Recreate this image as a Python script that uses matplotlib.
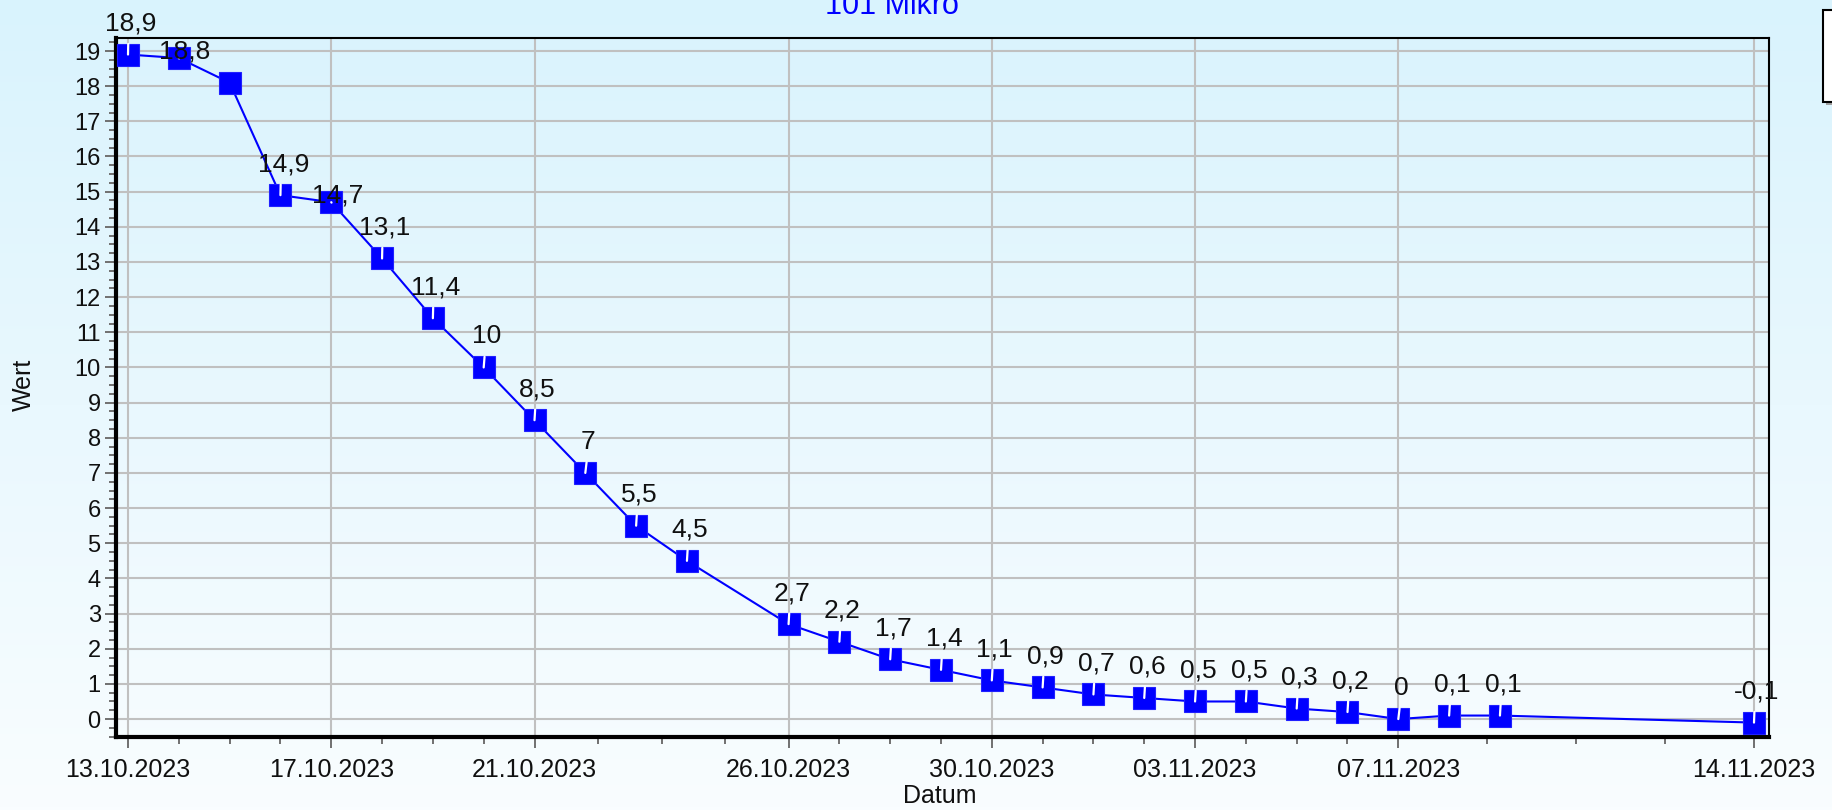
import datetime as dt
import matplotlib
matplotlib.use("Agg")
import matplotlib.pyplot as plt
import matplotlib.dates as mdates
import numpy as np
from matplotlib.patches import Rectangle
from matplotlib.ticker import MultipleLocator, FixedLocator

plt.rcParams['font.family'] = ['Liberation Sans', 'DejaVu Sans']

# data
dates = ["13.10.2023", "14.10.2023", "15.10.2023", "16.10.2023", "17.10.2023",
         "18.10.2023", "19.10.2023", "20.10.2023", "21.10.2023", "22.10.2023",
         "23.10.2023", "24.10.2023", "26.10.2023", "27.10.2023", "28.10.2023",
         "29.10.2023", "30.10.2023", "31.10.2023", "01.11.2023", "02.11.2023",
         "03.11.2023", "04.11.2023", "05.11.2023", "06.11.2023", "07.11.2023",
         "08.11.2023", "09.11.2023", "14.11.2023"]
values = [18.9, 18.8, 18.1, 14.9, 14.7, 13.1, 11.4, 10.0, 8.5, 7.0, 5.5, 4.5,
          2.7, 2.2, 1.7, 1.4, 1.1, 0.9, 0.7, 0.6, 0.5, 0.5, 0.3, 0.2, 0.0,
          0.1, 0.1, -0.1]
labels = ["18,9", "18,8", None, "14,9", "14,7", "13,1", "11,4", "10", "8,5",
          "7", "5,5", "4,5", "2,7", "2,2", "1,7", "1,4", "1,1", "0,9", "0,7",
          "0,6", "0,5", "0,5", "0,3", "0,2", "0", "0,1", "0,1", "-0,1"]
tick_dates = ["13.10.2023", "17.10.2023", "21.10.2023", "26.10.2023",
              "30.10.2023", "03.11.2023", "07.11.2023", "14.11.2023"]
title = "101 Mikro"

x = mdates.date2num([dt.datetime.strptime(d, "%d.%m.%Y") for d in dates])
xt = mdates.date2num([dt.datetime.strptime(d, "%d.%m.%Y") for d in tick_dates])

W, H = 1833, 810
fig = plt.figure(figsize=(W / 100, H / 100), dpi=100)

# gradient background
bg = fig.add_axes([0, 0, 1, 1], zorder=-10)
top = np.array([217, 243, 253]) / 255
bot = np.array([249, 253, 255]) / 255
t = np.linspace(0, 1, 256)[:, None]
grad = (top * (1 - t) + bot * t)[:, None, :]
bg.imshow(grad, aspect='auto', extent=[0, 1, 0, 1])
bg.set_axis_off()

ax = fig.add_axes([116 / W, 1 - 737 / H, (1769 - 116) / W, (737 - 38) / H])
ax.set_facecolor('none')

ax.plot(x, values, color='#0000ff', lw=1.5, marker='s', markersize=16,
        markerfacecolor='#0000ff', markeredgecolor='#2020ff', markeredgewidth=0.8,
        zorder=3)

for xi, v, lab in zip(x, values, labels):
    if lab is None:
        continue
    if lab in ("18,8", "14,7") and v > 14:
        dy, dx = -5, 6
    else:
        dy, dx = 19, 3
    ax.annotate(lab, (xi, v), xytext=(dx, dy), textcoords='offset pixels',
                ha='center', va='bottom', fontsize=19, color='#101010',
                annotation_clip=False, zorder=5,
                arrowprops=dict(arrowstyle='-', color='white', lw=1.6,
                                shrinkA=4, shrinkB=0, relpos=(0.45, 0)))

ax.set_xlim(xt[0] - 12 / 50.81, xt[-1] + 15 / 50.81)
ax.set_ylim(-0.51, 19.37)

ax.xaxis.set_major_locator(FixedLocator(xt))
minor = []
for a, b in zip(xt[:-1], xt[1:]):
    minor += list(a + (b - a) * np.array([0.25, 0.5, 0.75]))
ax.xaxis.set_minor_locator(FixedLocator(minor))
ax.xaxis.set_major_formatter(mdates.DateFormatter('%d.%m.%Y'))
ax.yaxis.set_major_locator(MultipleLocator(1))
ax.yaxis.set_minor_locator(MultipleLocator(0.25))

ax.grid(True, which='major', color='#c0c0c0', lw=1.5, zorder=1)
ax.set_axisbelow(True)

ax.tick_params(axis='x', which='major', labelsize=18, length=8, width=1.4,
               color='#707070', pad=7, labelcolor='#101010')
ax.tick_params(axis='x', which='minor', length=5, width=1.4, color='#707070')
ax.tick_params(axis='y', which='major', labelsize=17, length=8, width=1.4,
               color='#707070', pad=3, labelcolor='#101010')
ax.tick_params(axis='y', which='minor', length=5, width=1.4, color='#707070')

for s in ('left', 'bottom'):
    ax.spines[s].set_linewidth(3)
for s in ('top', 'right'):
    ax.spines[s].set_linewidth(1.5)

fig.text(892 / W, 1 - 14 / H, title, color='#0000ff', fontsize=22,
         ha='center', va='baseline')
fig.text(24 / W, 1 - 385 / H, "Wert", rotation=90, fontsize=18,
         ha='center', va='center', color='#101010')
fig.text(940 / W, 1 - 796 / H, "Datum", fontsize=18, ha='center', va='center',
         color='#101010')

# legend box at the right edge (empty)
fig.patches.append(Rectangle((1826 / W, 1 - 105 / H), 20 / W, 92 / H,
                             transform=fig.transFigure, facecolor='#a0a0a0',
                             edgecolor='none', zorder=1))
fig.patches.append(Rectangle((1823 / W, 1 - 102 / H), 20 / W, 92 / H,
                             transform=fig.transFigure, facecolor='white',
                             edgecolor='black', lw=1.5, zorder=2))

fig.savefig("out.png", dpi=100)
